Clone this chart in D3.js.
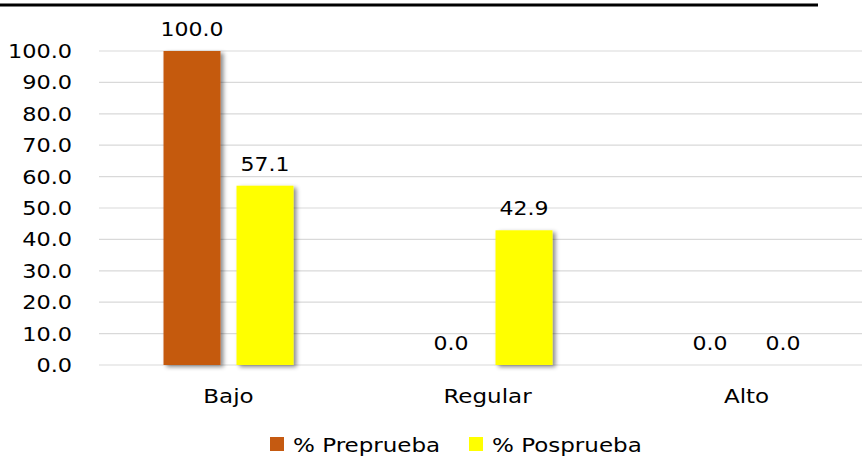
<!DOCTYPE html>
<html>
<head>
<meta charset="utf-8">
<script src="https://cdn.jsdelivr.net/npm/d3@7"></script>
<style>
  body { margin: 0; background: #fff; }
  text { font-family: "DejaVu Sans", Verdana, sans-serif; fill: #000; }
</style>
</head>
<body>
<svg id="svg1" width="862" height="457"></svg>
<script>
var categories = ["Bajo", "Regular", "Alto"];
var seriesNames = ["% Preprueba", "% Posprueba"];
var preprueba = [100.0, 0.0, 0.0];
var posprueba = [57.1, 42.9, 0.0];
var yTicks = [0, 10, 20, 30, 40, 50, 60, 70, 80, 90, 100];
var colors = ["#C55A11", "#FFFF00"];

var svg = d3.select("#svg1");

// the original text looks a bit wider than DejaVu, so stretch it
function stretch(sel, k) {
    sel.each(function() {
        var len = this.getComputedTextLength();
        d3.select(this).attr("textLength", len * k).attr("lengthAdjust", "spacingAndGlyphs");
    });
}

var defs = svg.append("defs");
var filter = defs.append("filter").attr("id", "shadow")
    .attr("x", "-20%").attr("y", "-10%").attr("width", "150%").attr("height", "130%");
filter.append("feDropShadow")
    .attr("dx", 3).attr("dy", 2).attr("stdDeviation", 2)
    .attr("flood-color", "#000").attr("flood-opacity", 0.45);

// top border line
svg.append("line")
    .attr("x1", 0).attr("x2", 818)
    .attr("y1", 5).attr("y2", 5)
    .attr("stroke", "#000").attr("stroke-width", 3);

var left = 99, right = 876;
var scaleX = d3.scaleBand().domain(categories).range([left, right]);
var scaleY = d3.scaleLinear().domain([0, 100]).range([365, 51]);

// gridlines
svg.selectAll(".grid")
    .data(yTicks)
    .enter()
    .append("line")
      .attr("class", "grid")
      .attr("x1", left).attr("x2", 862)
      .attr("y1", function(d) { return scaleY(d); })
      .attr("y2", function(d) { return scaleY(d); })
      .attr("stroke", "#d9d9d9").attr("stroke-width", 1.2);

// y axis labels
var yAxis = svg.append("g")
    .attr("transform", "translate(" + left + ",0)")
    .call(d3.axisLeft(scaleY).tickValues(yTicks).tickFormat(d3.format(".1f")).tickSize(0).tickPadding(27));
yAxis.select(".domain").remove();
yAxis.selectAll("text").style("font-size", "20px").attr("fill", "#000")
    .style("font-family", "'DejaVu Sans', Verdana, sans-serif")
    .call(stretch, 1.12);

// x axis labels
var xAxis = svg.append("g")
    .attr("transform", "translate(0,365)")
    .call(d3.axisBottom(scaleX).tickSize(0).tickPadding(24));
xAxis.select(".domain").remove();
xAxis.selectAll("text").style("font-size", "20px").attr("fill", "#000")
    .style("font-family", "'DejaVu Sans', Verdana, sans-serif")
    .call(stretch, 1.15);

var barWidth = 57, gap = 16;
var data = [];
categories.forEach(function(c, i) {
    [preprueba[i], posprueba[i]].forEach(function(v, s) {
        data.push({ cat: c, s: s, value: v });
    });
});
function barX(d) {
    var center = scaleX(d.cat) + scaleX.bandwidth() / 2;
    return center - (barWidth + gap / 2) + d.s * (barWidth + gap);
}

svg.selectAll(".box")
    .data(data.filter(function(d) { return d.value > 0; }))
    .enter()
    .append("rect")
      .attr("class", "box")
      .attr("x", barX)
      .attr("y", function(d) { return scaleY(d.value); })
      .attr("width", barWidth)
      .attr("height", function(d) { return scaleY(0) - scaleY(d.value); })
      .attr("fill", function(d) { return colors[d.s]; })
      .attr("filter", "url(#shadow)");

svg.selectAll(".label-value")
    .data(data)
    .enter()
    .append("text")
      .attr("class", "label-value")
      .attr("x", function(d) { return barX(d) + barWidth / 2; })
      .attr("y", function(d) { return scaleY(d.value) - 15; })
      .attr("text-anchor", "middle")
      .style("font-size", "20px")
      .text(function(d) { return d3.format(".1f")(d.value); })
      .call(stretch, 1.1);

// legend
var legendX = [270, 469];
var legend = svg.selectAll(".legend")
    .data(seriesNames)
    .enter()
    .append("g")
      .attr("class", "legend")
      .attr("transform", function(d, i) { return "translate(" + legendX[i] + ",437)"; });
legend.append("rect")
    .attr("width", 14).attr("height", 14)
    .attr("fill", function(d, i) { return colors[i]; });
legend.append("text")
    .attr("x", 23).attr("y", 15)
    .style("font-size", "20px")
    .text(function(d) { return d; })
    .call(stretch, 1.15);
</script>
</body>
</html>
